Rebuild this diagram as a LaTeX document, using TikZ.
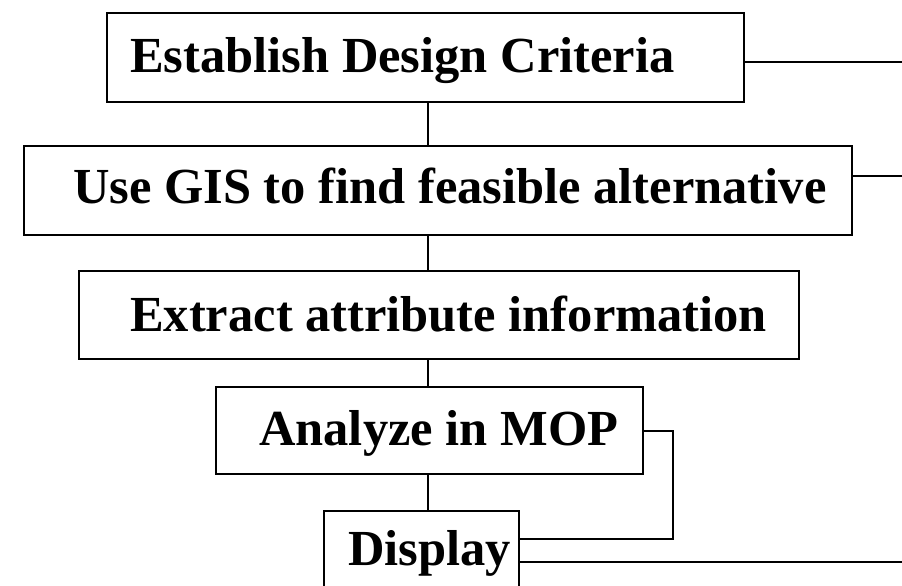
\documentclass[tikz,border=0pt]{standalone}
\usepackage{fontspec}
\setmainfont{Liberation Serif}
\begin{document}
\begin{tikzpicture}[x=1pt,y=-1pt,
  box/.style={draw, line width=1.8pt, rectangle, inner sep=0pt},
  lbl/.style={anchor=base west, inner sep=0pt, font=\fontsize{50.5}{60}\selectfont\bfseries},
  link/.style={line width=1.6pt}]
\useasboundingbox (0,0) rectangle (902,586);

% process boxes (corner to corner)
\node[box, minimum width=637pt, minimum height=89pt] (b1) at (425.5,57.5) {};
\node[box, minimum width=828pt, minimum height=89pt] (b2) at (438,190.5) {};
\node[box, minimum width=720pt, minimum height=88pt] (b3) at (439,315) {};
\node[box, minimum width=427pt, minimum height=87pt] (b4) at (429.5,430.5) {};
\node[box, minimum width=195pt, minimum height=100pt] (b5) at (421.5,561) {};

% box texts
\node[lbl] (t1) at (130,73) {Establish Design Criteria};
\node[lbl] (t2) at (73,203) {Use GIS to find feasible alternative};
\node[lbl] (t3) at (130,331) {Extract attribute information};
\node[lbl] (t4) at (259,445) {Analyze in MOP};
\node[lbl] (t5) at (348,565) {Display};

% spine and outgoing lines
\coordinate (sp) at (428,0);
\coordinate (edge) at (902,0);
\coordinate (loop) at (673,0);

\draw[link] (b1.south -| sp) -- (b2.north -| sp);
\draw[link] (b2.south -| sp) -- (b3.north -| sp);
\draw[link] (b3.south -| sp) -- (b4.north -| sp);
\draw[link] (b4.south -| sp) -- (b5.north -| sp);

\draw[link] (b1.east |- 0,62) -- (edge |- 0,62);
\draw[link] (b2.east |- 0,176) -- (edge |- 0,176);
\draw[link] (b4.east |- 0,431) -- (loop |- 0,431) -- (loop |- 0,539) -- (b5.east |- 0,539);
\draw[link] (b5.east |- 0,562) -- (edge |- 0,562);
\end{tikzpicture}
\end{document}
